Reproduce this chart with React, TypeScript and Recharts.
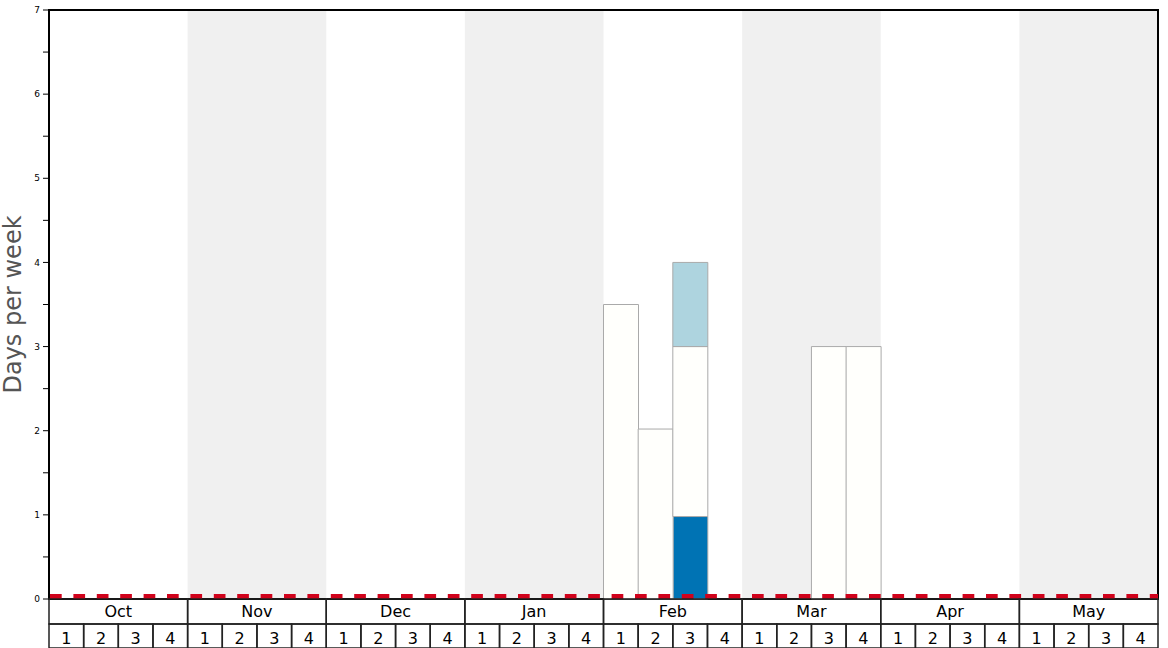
import React from 'react';
import { BarChart, Bar, XAxis, YAxis, ReferenceLine, ReferenceArea } from 'recharts';

// Season calendar: 8 months, 4 weeks each
const MONTHS = ['Oct', 'Nov', 'Dec', 'Jan', 'Feb', 'Mar', 'Apr', 'May'];
const WEEKS = ['1', '2', '3', '4'];
const SHADED_MONTHS = ['Nov', 'Jan', 'Mar', 'May'];

// Days per week, one value per week slot (Oct 1 .. May 4)
const darkBlueDays = [
  0, 0, 0, 0, 0, 0, 0, 0, 0, 0, 0, 0, 0, 0, 0, 0,
  0, 0, 0.98, 0, 0, 0, 0, 0, 0, 0, 0, 0, 0, 0, 0, 0,
];
const whiteDays = [
  0, 0, 0, 0, 0, 0, 0, 0, 0, 0, 0, 0, 0, 0, 0, 0,
  3.5, 2.02, 2.02, 0, 0, 0, 3, 3, 0, 0, 0, 0, 0, 0, 0, 0,
];
const lightBlueDays = [
  0, 0, 0, 0, 0, 0, 0, 0, 0, 0, 0, 0, 0, 0, 0, 0,
  0, 0, 1, 0, 0, 0, 0, 0, 0, 0, 0, 0, 0, 0, 0, 0,
];
const THRESHOLD = 0.03;
const Y_TICKS = [0, 0.5, 1, 1.5, 2, 2.5, 3, 3.5, 4, 4.5, 5, 5.5, 6, 6.5, 7];

const slots = MONTHS.flatMap((m) => WEEKS.map((w) => `${m} ${w}`));
const data = slots.map((slot, i) => ({
  slot,
  dark: darkBlueDays[i],
  white: whiteDays[i],
  light: lightBlueDays[i],
}));

const WIDTH = 1168;
const HEIGHT = 648;
const MARGIN = { top: 10, right: 10, bottom: 0, left: 0 };
const Y_AXIS_W = 49;
const PLOT_W = WIDTH - MARGIN.left - MARGIN.right - Y_AXIS_W;
const SLOT_W = PLOT_W / slots.length;
const FONT = 'DejaVu Sans, sans-serif';

const CalendarTick = (props: any) => {
  const { x, y, payload } = props;
  const [month, week] = String(payload.value).split(' ');
  const left = x - SLOT_W / 2;
  return (
    <g>
      <rect x={left} y={y + 25} width={SLOT_W} height={24} fill="none" stroke="#222" strokeWidth={1.5} />
      <text x={x} y={y + 45} textAnchor="middle" fontSize={16} fontFamily={FONT} fill="#000">
        {week}
      </text>
      {week === '1' && (
        <g>
          <rect x={left} y={y} width={SLOT_W * 4} height={25} fill="none" stroke="#222" strokeWidth={1.5} />
          <text x={left + SLOT_W * 2} y={y + 18} textAnchor="middle" fontSize={16} fontFamily={FONT} fill="#000">
            {month}
          </text>
        </g>
      )}
    </g>
  );
};

export default function App() {
  return (
    <div style={{ position: 'absolute', left: 0, top: 0, width: WIDTH, height: HEIGHT, background: '#fff' }}>
      <BarChart width={WIDTH} height={HEIGHT} data={data} margin={MARGIN} barCategoryGap={0} barGap={0}>
        <XAxis
          dataKey="slot"
          interval={0}
          height={49}
          tickSize={0}
          tickMargin={0}
          tickLine={false}
          axisLine={false}
          tick={<CalendarTick />}
        />
        <YAxis
          width={Y_AXIS_W}
          domain={[0, 7]}
          ticks={Y_TICKS}
          interval={0}
          allowDecimals
          axisLine={false}
          tickSize={6}
          tickMargin={3}
          tickLine={{ stroke: '#000' }}
          tick={{ fontSize: 9, fontFamily: FONT, fill: '#000' }}
          tickFormatter={(v: number) => (Number.isInteger(v) ? String(v) : '')}
          label={{
            value: 'Days per week',
            angle: -90,
            position: 'insideLeft',
            offset: 12,
            style: { textAnchor: 'middle', fontSize: 24, fontFamily: FONT, fill: '#555' },
          }}
        />
        {SHADED_MONTHS.map((m) => (
          <ReferenceArea
            key={m}
            x1={`${m} ${WEEKS[0]}`}
            x2={`${m} ${WEEKS[WEEKS.length - 1]}`}
            y1={0}
            y2={7}
            fill="#f0f0f0"
            fillOpacity={1}
            stroke="none"
          />
        ))}
        <Bar dataKey="dark" stackId="days" fill="#0073b4" stroke="#aaa" strokeWidth={1} isAnimationActive={false} />
        <Bar dataKey="white" stackId="days" fill="#fffffc" stroke="#aaa" strokeWidth={1} isAnimationActive={false} />
        <Bar dataKey="light" stackId="days" fill="#aed4df" stroke="#aaa" strokeWidth={1} isAnimationActive={false} />
        <ReferenceLine y={THRESHOLD} stroke="#d0021b" strokeWidth={5} strokeDasharray="11.7 11.7" strokeDashoffset={-1} />
        <ReferenceArea x1={slots[0]} x2={slots[slots.length - 1]} y1={0} y2={7} fill="none" fillOpacity={0} stroke="#000" strokeWidth={2} />
      </BarChart>
    </div>
  );
}
